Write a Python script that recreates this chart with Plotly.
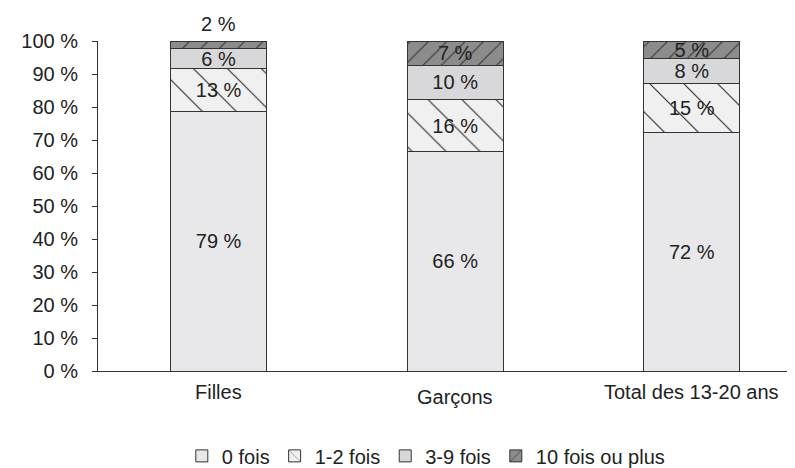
import plotly.graph_objects as go

categories = ["Filles", "Garçons", "Total des 13-20 ans"]
series_names = ["0 fois", "1-2 fois", "3-9 fois", "10 fois ou plus"]
v_0 = [78.7, 66.4, 72.4]
v_1_2 = [13.1, 16.0, 14.6]
v_3_9 = [5.8, 10.2, 7.8]
v_10p = [2.4, 7.4, 5.2]

FONT = "Liberation Sans, Arial, sans-serif"
TXT = "#222222"
EDGE = "#333333"

fig = go.Figure()

styles = [
    dict(color="#e8e8ea", pattern=None),
    dict(color="#f0f0f0", pattern=dict(shape="\\", fgcolor="#333333", bgcolor="#f0f0f0", fgopacity=1,
                                       size=24, solidity=0.05, fillmode="overlay")),
    dict(color="#d8d8da", pattern=None),
    dict(color="#8c8c8c", pattern=dict(shape="/", fgcolor="#333333", bgcolor="#8c8c8c", fgopacity=1,
                                       size=13, solidity=0.08, fillmode="overlay")),
]
values = [v_0, v_1_2, v_3_9, v_10p]

for name, vals, st in zip(series_names, values, styles):
    marker = dict(color=st["color"], line=dict(color=EDGE, width=1))
    if st["pattern"]:
        marker["pattern"] = st["pattern"]
    texts = [f"{round(v)} %" for v in vals]
    if name == "10 fois ou plus":
        texts[0] = ""  # shown above the bar instead (segment too thin)
    fig.add_trace(go.Bar(
        x=categories, y=vals, name=name, marker=marker,
        text=texts, texttemplate="%{text}", textposition="inside", textangle=0,
        insidetextanchor="middle",
        textfont=dict(family=FONT, size=20, color=TXT),
        cliponaxis=False, hoverinfo="skip",
    ))

# thin top segment of "Filles": label above the bar
tot0 = v_0[0] + v_1_2[0] + v_3_9[0] + v_10p[0]
fig.add_annotation(x=categories[0], y=tot0, xref="x", yref="y",
                   text=f"{round(v_10p[0])} %", showarrow=False, yanchor="bottom",
                   yshift=4, font=dict(family=FONT, size=20, color=TXT))

# category labels
shifts = [-8, -13, -8]
for c, s in zip(categories, shifts):
    fig.add_annotation(x=c, y=0, xref="x", yref="y", text=c, showarrow=False,
                       yanchor="top", yshift=s,
                       font=dict(family=FONT, size=20, color=TXT))

fig.update_layout(
    width=795, height=468,
    margin=dict(l=90, r=0, t=33, b=105, autoexpand=False),
    barmode="stack", bargap=0.594,
    plot_bgcolor="white", paper_bgcolor="white",
    font=dict(family=FONT, size=20, color=TXT),
    uniformtext=dict(mode="show", minsize=20),
    showlegend=True,
    legend=dict(orientation="h", x=0.465, xanchor="center", yref="container",
                y=0.043, yanchor="middle", font=dict(family=FONT, size=20, color=TXT),
                traceorder="normal"),
)
fig.update_xaxes(type="category", range=[-0.51, 2.47], showticklabels=False,
                 showline=True, linecolor=EDGE, linewidth=1, ticks="", showgrid=False,
                 zeroline=False)
fig.update_yaxes(range=[0, 100.01], tickvals=list(range(0, 101, 10)),
                 ticktext=[f"{v} %" for v in range(0, 101, 10)],
                 showline=True, linecolor=EDGE, linewidth=1, ticks="outside",
                 ticklen=5, tickcolor=EDGE, showgrid=False, zeroline=False,
                 tickfont=dict(family=FONT, size=20, color=TXT), ticklabelstandoff=10)

fig.write_html("out.html")
